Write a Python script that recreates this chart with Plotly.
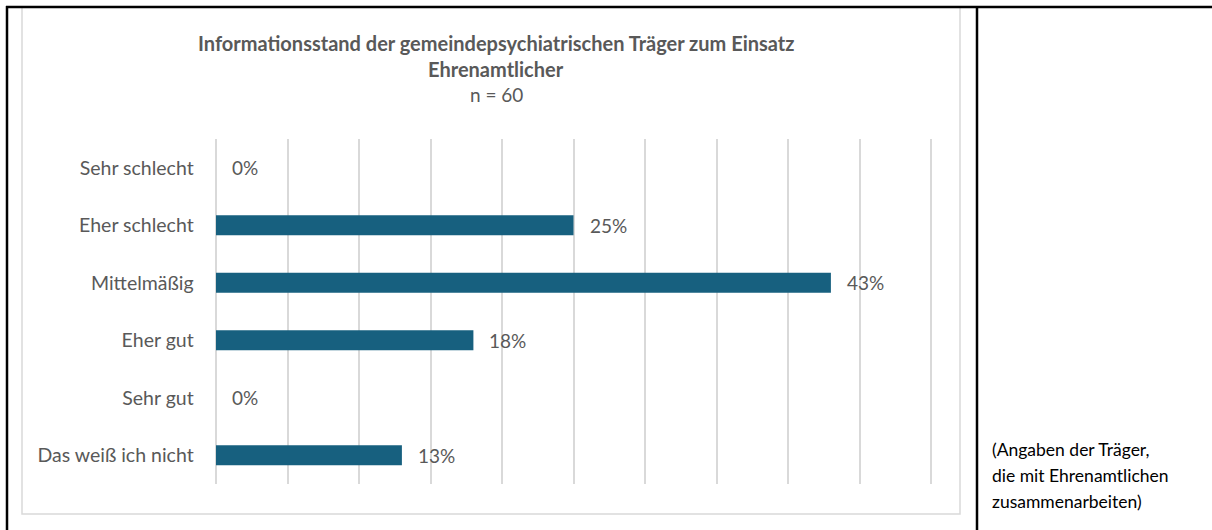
import plotly.graph_objects as go

categories = ["Sehr schlecht", "Eher schlecht", "Mittelmäßig", "Eher gut", "Sehr gut", "Das weiß ich nicht"]
values = [0, 25, 43, 18, 0, 13]
value_labels = ["0%", "25%", "43%", "18%", "0%", "13%"]
title_lines = ["Informationsstand der gemeindepsychiatrischen Träger zum Einsatz", "Ehrenamtlicher"]
subtitle = "n = 60"
side_note = ["(Angaben der Träger,", "die mit Ehrenamtlichen", "zusammenarbeiten)"]

W, H = 1212, 530
FONT = "Lato"
GREY_TEXT = "#595959"
BAR = "#17607F"

def px(x):
    return x / W

def py(y):
    return 1 - y / H

# axis from 0 to 50 % spans 216..931 px; pad the range slightly so the end gridlines are drawn
PAD = 0.1
UNIT = (931 - 216) / 50.0

fig = go.Figure()
fig.add_trace(go.Bar(
    x=values, y=categories, orientation="h",
    marker=dict(color=BAR, line=dict(width=0)),
    width=0.35, hoverinfo="skip",
))

annotations = []
for c, v, t in zip(categories, values, value_labels):
    annotations.append(dict(x=v, y=c, xref="x", yref="y", text=t, showarrow=False,
                            xanchor="left", yanchor="middle", xshift=14,
                            font=dict(family=FONT, size=19, color=GREY_TEXT)))

annotations.append(dict(x=px(496), y=py(43), xref="paper", yref="paper", text="<b>" + title_lines[0] + "</b>",
                        showarrow=False, xanchor="center", yanchor="middle",
                        font=dict(family=FONT, size=20, color=GREY_TEXT)))
annotations.append(dict(x=px(496), y=py(69), xref="paper", yref="paper", text="<b>" + title_lines[1] + "</b>",
                        showarrow=False, xanchor="center", yanchor="middle",
                        font=dict(family=FONT, size=20, color=GREY_TEXT)))
annotations.append(dict(x=px(496), y=py(95), xref="paper", yref="paper", text=subtitle,
                        showarrow=False, xanchor="center", yanchor="middle",
                        font=dict(family=FONT, size=19, color=GREY_TEXT)))
for i, line in enumerate(side_note):
    annotations.append(dict(x=px(990), y=py(449 + 26 * i), xref="paper", yref="paper", text=line,
                            showarrow=False, xanchor="left", yanchor="middle",
                            font=dict(family=FONT, size=17.5, color="#000000")))

shapes = [
    dict(type="rect", xref="paper", yref="paper", x0=px(22), x1=px(960), y0=py(514), y1=py(7),
         line=dict(color="#D9D9D9", width=1.5), fillcolor="rgba(0,0,0,0)", layer="below"),
    dict(type="line", xref="paper", yref="paper", x0=px(6), x1=1, y0=py(7), y1=py(7),
         line=dict(color="#000000", width=2.5)),
    dict(type="line", xref="paper", yref="paper", x0=px(7), x1=px(7), y0=0, y1=py(6),
         line=dict(color="#000000", width=2.5)),
    dict(type="line", xref="paper", yref="paper", x0=px(977), x1=px(977), y0=0, y1=py(6),
         line=dict(color="#000000", width=2.5)),
]

fig.update_layout(
    width=W, height=H, autosize=False,
    margin=dict(l=0, r=0, t=0, b=0),
    paper_bgcolor="white", plot_bgcolor="white",
    showlegend=False,
    xaxis=dict(range=[-PAD, 50 + PAD], domain=[px(216 - PAD * UNIT), px(931 + PAD * UNIT)],
               tickmode="linear", dtick=5, tick0=0,
               showgrid=True, gridcolor="#D9D9D9", gridwidth=1.5,
               zeroline=False, showticklabels=False, showline=False, fixedrange=True),
    yaxis=dict(domain=[py(484), py(139)], categoryorder="array", categoryarray=categories,
               autorange="reversed", showgrid=False, zeroline=False, showline=False,
               ticks="outside", ticklen=16, tickcolor="rgba(0,0,0,0)",
               tickfont=dict(family=FONT, size=19.5, color=GREY_TEXT), fixedrange=True),
    annotations=annotations,
    shapes=shapes,
)

fig.write_html("out.html", config={"displayModeBar": False},
               post_script="document.body.style.margin='0';document.body.style.overflow='hidden';")
